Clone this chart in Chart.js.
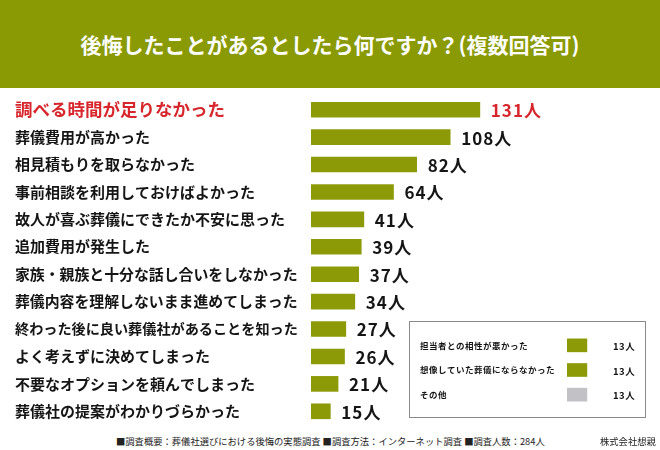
<!DOCTYPE html>
<html lang="ja">
<head>
<meta charset="utf-8">
<script src="https://cdn.jsdelivr.net/npm/chart.js@4"></script>
<style>
  body { margin: 0; background: #fff; font-family: "Noto Sans CJK JP", sans-serif; }
  #page { position: relative; width: 660px; height: 450px; overflow: hidden; }
  #head { position: absolute; left: 0; top: 0; width: 660px; height: 88px; background: #8a9a05;
          color: #fff; font-weight: bold; font-size: 21px; display: flex; align-items: center; justify-content: center; }
  #main { position: absolute; left: 0; top: 96px; }
  #box { position: absolute; left: 409px; top: 321px; width: 235px; height: 95px; border: 1px solid #8a8a8a; background: #fff; }
  #inset { position: absolute; left: 0; top: 11px; }
  .foot { position: absolute; top: 434px; font-size: 9.3px; color: #222; white-space: nowrap; }
</style>
</head>
<body>
<div id="page">
  <div id="head">後悔したことがあるとしたら何ですか？(複数回答可)</div>
  <canvas id="main" width="660" height="329"></canvas>
  <div id="box"><canvas id="inset" width="235" height="74"></canvas></div>
  <div class="foot" style="left:116px">■調査概要：葬儀社選びにおける後悔の実態調査 ■調査方法：インターネット調査 ■調査人数：284人</div>
  <div class="foot" style="left:600px">株式会社想親</div>
</div>
<script>
// main question answers
var reasons = [
  '調べる時間が足りなかった',
  '葬儀費用が高かった',
  '相見積もりを取らなかった',
  '事前相談を利用しておけばよかった',
  '故人が喜ぶ葬儀にできたか不安に思った',
  '追加費用が発生した',
  '家族・親族と十分な話し合いをしなかった',
  '葬儀内容を理解しないまま進めてしまった',
  '終わった後に良い葬儀社があることを知った',
  'よく考えずに決めてしまった',
  '不要なオプションを頼んでしまった',
  '葬儀社の提案がわかりづらかった'
];
var counts = [131, 108, 82, 64, 41, 39, 37, 34, 27, 26, 21, 15];

// small box at bottom right
var otherReasons = ['担当者との相性が悪かった', '想像していた葬儀にならなかった', 'その他'];
var otherCounts = [13, 13, 13];

var unit = '人';
var olive = '#8c9a08';
var red = '#d7262c';
var font = '"Noto Sans CJK JP", sans-serif';

// draws "N人" next to each bar
var valueLabels = {
  id: 'valueLabels',
  beforeDraw: function(chart, args, opts) {
    // spacing for the tick labels too
    chart.ctx.letterSpacing = opts.tickSpacing || '0px';
  },
  afterDatasetsDraw: function(chart, args, opts) {
    var ctx = chart.ctx;
    var meta = chart.getDatasetMeta(0);
    ctx.save();
    ctx.font = opts.font;
    ctx.letterSpacing = opts.spacing;
    ctx.textBaseline = 'middle';
    meta.data.forEach(function(bar, i) {
      var x = opts.column ? chart.chartArea.left + opts.column : bar.x + opts.gap;
      ctx.fillStyle = (opts.highlightFirst && i === 0) ? red : '#151515';
      ctx.fillText(chart.data.datasets[0].data[i] + unit, x, bar.y + 1);
    });
    ctx.restore();
  }
};

function fixAxis(w) {
  return function(scale) {
    scale.width = w;
    scale.paddingTop = 0;
    scale.paddingBottom = 0;
  };
}

new Chart(document.getElementById('main'), {
  type: 'bar',
  data: {
    labels: reasons,
    datasets: [{ data: counts, backgroundColor: olive, barThickness: 15 }]
  },
  options: {
    indexAxis: 'y',
    responsive: false,
    animation: false,
    devicePixelRatio: 1,
    layout: { padding: { left: 15, right: 1, top: 0, bottom: 0 } },
    plugins: {
      legend: { display: false },
      tooltip: { enabled: false },
      valueLabels: { font: 'bold 17px ' + font, spacing: '1px', gap: 11, highlightFirst: true }
    },
    scales: {
      x: { display: false, min: 0, max: 270 },
      y: {
        grid: { display: false },
        border: { display: false },
        afterFit: fixAxis(296),
        ticks: {
          crossAlign: 'far',
          color: function(c) { return c.index === 0 ? red : '#151515'; },
          font: function(c) {
            if (c.index === 0) return { family: font, size: 17.5, weight: 'bold' };
            // long labels are squeezed a little
            var len = reasons[c.index].length;
            return { family: font, size: Math.min(15, 283 / len), weight: 'bold' };
          }
        }
      }
    }
  },
  plugins: [valueLabels]
});

new Chart(document.getElementById('inset'), {
  type: 'bar',
  data: {
    labels: otherReasons,
    datasets: [{ data: otherCounts, backgroundColor: [olive, olive, '#c2c1c6'], barThickness: 13 }]
  },
  options: {
    indexAxis: 'y',
    responsive: false,
    animation: false,
    devicePixelRatio: 1,
    layout: { padding: { left: 10, right: 0, top: 0, bottom: 0 } },
    plugins: {
      legend: { display: false },
      tooltip: { enabled: false },
      valueLabels: { font: 'bold 9.5px ' + font, spacing: '0.5px', tickSpacing: '0.5px', column: 46 }
    },
    scales: {
      x: { display: false, min: 0, max: 51 },
      y: {
        grid: { display: false },
        border: { display: false },
        afterFit: fixAxis(147),
        ticks: {
          crossAlign: 'far',
          color: '#151515',
          font: { family: font, size: 8.5, weight: 'bold' }
        }
      }
    }
  },
  plugins: [valueLabels]
});
</script>
</body>
</html>
